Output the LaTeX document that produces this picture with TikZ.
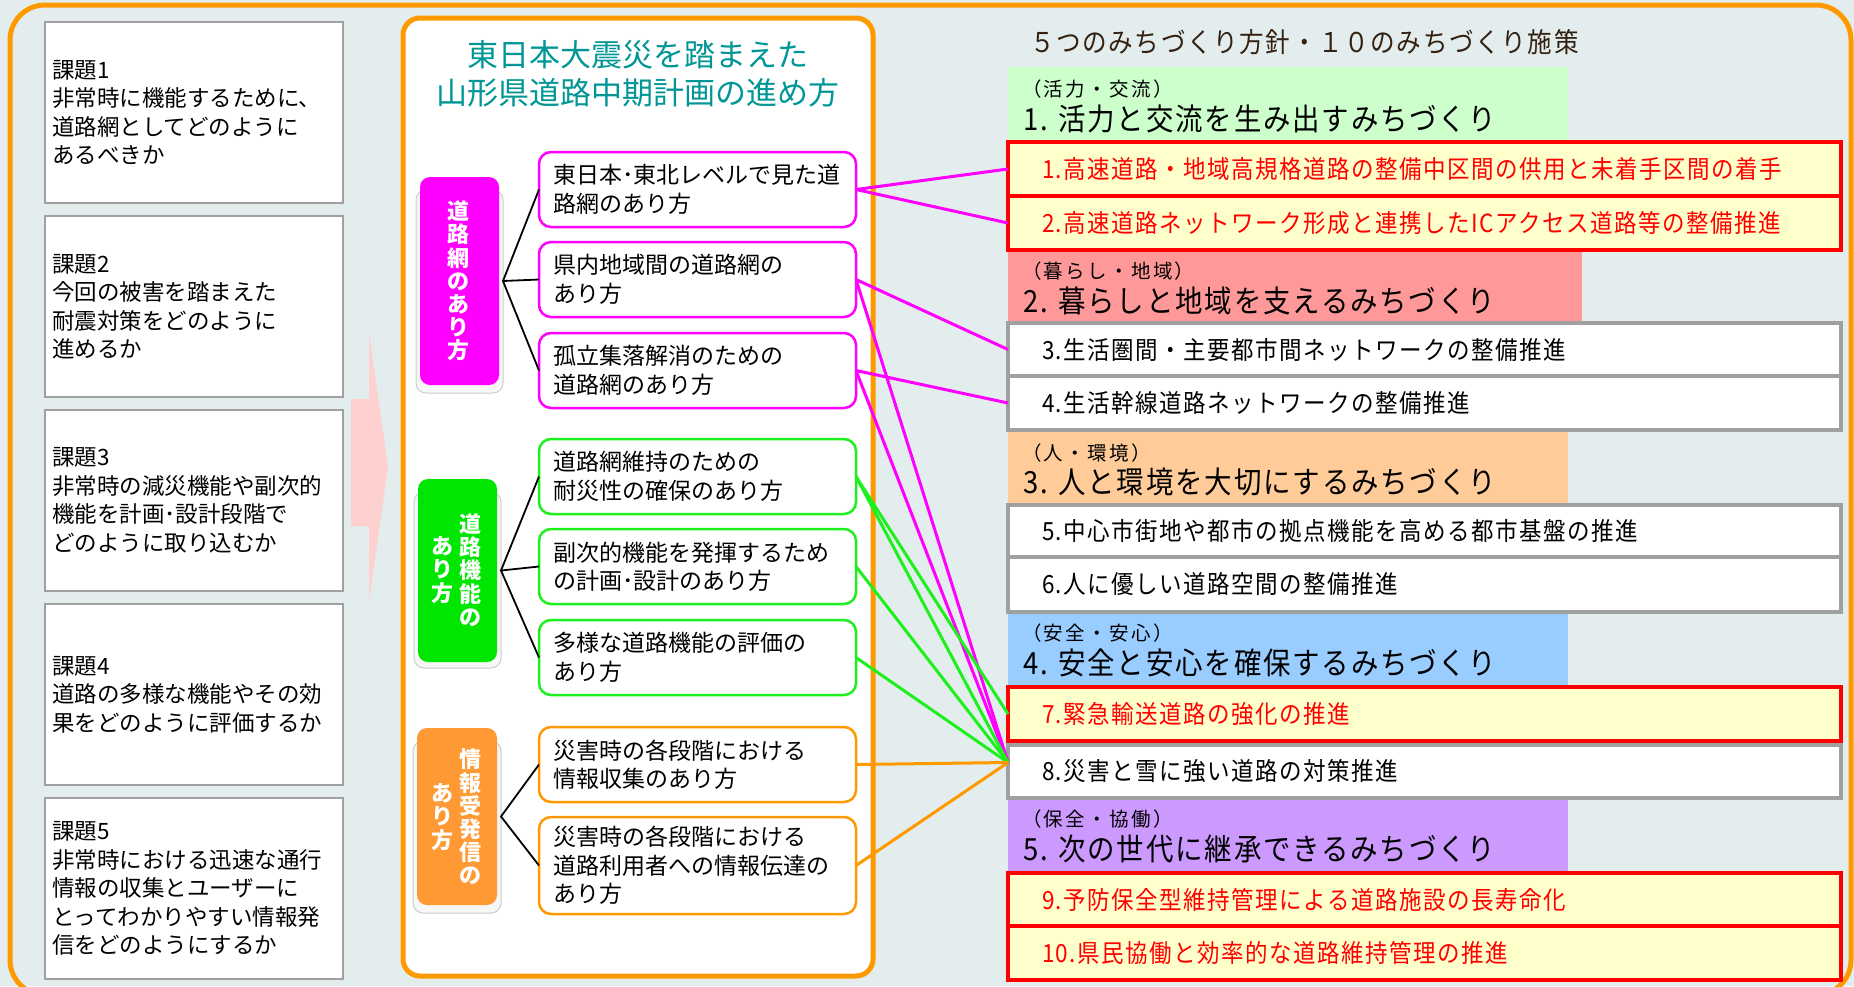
\documentclass[tikz,border=0pt]{standalone}
\usepackage{fontspec}
\setmainfont{Noto Sans CJK JP}
\newfontfamily\rfont[FakeStretch=0.9,LetterSpace=6]{Noto Sans CJK JP}
\newfontfamily\rsmall[LetterSpace=12]{Noto Sans CJK JP}
\usetikzlibrary{calc}
\definecolor{bgc}{RGB}{228,237,237}
\definecolor{orng}{RGB}{255,153,0}
\definecolor{mag}{RGB}{255,0,255}
\definecolor{grn}{RGB}{30,240,30}
\definecolor{catgrn}{RGB}{0,230,0}
\definecolor{catorg}{RGB}{255,153,51}
\definecolor{tealc}{RGB}{0,150,150}
\definecolor{brn}{RGB}{51,34,17}
\definecolor{hgreen}{RGB}{204,255,204}
\definecolor{hpink}{RGB}{255,153,153}
\definecolor{horange}{RGB}{255,204,153}
\definecolor{hblue}{RGB}{153,204,255}
\definecolor{hpurple}{RGB}{204,153,255}
\definecolor{yel}{RGB}{255,255,204}
\definecolor{gbord}{RGB}{160,160,160}
\definecolor{pinkarrow}{RGB}{255,208,208}
\begin{document}
\begin{tikzpicture}[x=1pt,y=-1pt,
  every node/.style={outer sep=0pt},
  issue/.style={draw=gbord, line width=2.5pt, fill=white, anchor=north west, text width=284pt, inner xsep=7pt, inner ysep=0pt, minimum height=181pt, align=left, font=\fontsize{22.5}{28.5}\selectfont},
  sub/.style={line width=2.5pt, rounded corners=12pt, fill=white, anchor=north west, text width=289pt, inner xsep=14pt, inner ysep=0pt, minimum height=75pt, align=left, font=\fontsize{23}{28.5}\selectfont},
  cat/.style={rounded corners=10pt, anchor=north west, inner sep=0pt},
  plate/.style={rounded corners=10pt, fill=gray!6, draw=gray!40, line width=1pt},
  vt/.style={text=white, align=center, inner sep=0pt, font=\fontsize{22}{23.2}\selectfont\bfseries},
  tree/.style={black, line width=1.8pt},
  hdr/.style={anchor=north west, inner sep=0pt, minimum width=560pt},
  hs/.style={anchor=west, inner sep=0pt, font=\rsmall\fontsize{19.5}{22}\selectfont},
  hl/.style={anchor=west, inner sep=0pt, font=\rfont\fontsize{30.5}{33}\selectfont},
  item/.style={anchor=north west, minimum width=833pt, text width=765pt, inner xsep=34pt, inner ysep=0pt, align=left, line width=3.5pt, font=\rfont\fontsize{25}{28}\selectfont},
  ritem/.style={item, draw=red, fill=yel, text=red},
  gitem/.style={item, draw=gbord, fill=white},
  conn/.style={line width=3pt}
]
\useasboundingbox (0,0) rectangle (1854,986);
\clip (0,0) rectangle (1854,986);
\fill[bgc] (0,0) rectangle (1854,986);
\draw[orng,line width=5pt,rounded corners=35pt] (10,5) rectangle (1851,995);

% left issue boxes
\node[issue] (k1) at (45,22) {課題1\\非常時に機能するために、\\道路網としてどのように\\あるべきか};
\node[issue] (k2) at (45,216) {課題2\\今回の被害を踏まえた\\耐震対策をどのように\\進めるか};
\node[issue] (k3) at (45,410) {課題3\\非常時の減災機能や副次的\\機能を計画･設計段階で\\どのように取り込むか};
\node[issue] (k4) at (45,604) {課題4\\道路の多様な機能やその効\\果をどのように評価するか};
\node[issue] (k5) at (45,798) {課題5\\非常時における迅速な通行\\情報の収集とユーザーに\\とってわかりやすい情報発\\信をどのようにするか};

% pink arrow
\fill[pinkarrow] (351,399) -- (369,399) -- (369,332) -- (388,467) -- (369,602) -- (369,526) -- (351,526) -- cycle;

% center panel
\node[draw=orng, line width=5pt, fill=white, rounded corners=17pt, anchor=north west, minimum width=470pt, minimum height=958pt, inner sep=0pt] (panel) at (403,18) {};
\node[font=\fontsize{31}{38}\selectfont, text=tealc, align=center, inner sep=0pt] (ttl) at (638,74) {東日本大震災を踏まえた\\山形県道路中期計画の進め方};

% category boxes
\draw[plate] (416,190) rectangle (503,393);
\draw[plate] (414,492) rectangle (501,668);
\draw[plate] (413,741) rectangle (501,913);
\node[cat, fill=mag, minimum width=79pt, minimum height=208pt] (c1) at (420,177) {};
\node[cat, fill=catgrn, minimum width=79pt, minimum height=183pt] (c2) at (418,479) {};
\node[cat, fill=catorg, minimum width=80pt, minimum height=177pt] (c3) at (417,728) {};
\node[vt] (v1) at (458,281) {道\\路\\網\\の\\あ\\り\\方};
\node[vt] (v2a) at (470,570) {道\\路\\機\\能\\の};
\node[vt] (v2b) at (442,570) {あ\\り\\方};
\node[vt] (v3a) at (470,817) {情\\報\\受\\発\\信\\の};
\node[vt] (v3b) at (442,817) {あ\\り\\方};

% sub boxes
\node[sub, draw=mag] (sA) at (539,152) {東日本･東北レベルで見た道\\路網のあり方};
\node[sub, draw=mag] (sB) at (539,242) {県内地域間の道路網の\\あり方};
\node[sub, draw=mag] (sC) at (539,333) {孤立集落解消のための\\道路網のあり方};
\node[sub, draw=grn] (sD) at (539,439) {道路網維持のための\\耐災性の確保のあり方};
\node[sub, draw=grn] (sE) at (539,529) {副次的機能を発揮するため\\の計画･設計のあり方};
\node[sub, draw=grn] (sF) at (539,620) {多様な道路機能の評価の\\あり方};
\node[sub, draw=orng] (sG) at (539,727) {災害時の各段階における\\情報収集のあり方};
\node[sub, draw=orng, minimum height=97pt] (sH) at (539,817) {災害時の各段階における\\道路利用者への情報伝達の\\あり方};

% tree connectors
\coordinate (h1) at ($(c1.east)+(4,0)$);
\coordinate (h2) at ($(c2.east)+(4,0)$);
\coordinate (h3) at ($(c3.east)+(4,0)$);
\draw[tree] (sA.west) -- (h1) -- (sC.west);
\draw[tree] (h1) -- (sB.west);
\draw[tree] (sD.west) -- (h2) -- (sF.west);
\draw[tree] (h2) -- (sE.west);
\draw[tree] (sG.west) -- (h3) -- (sH.west);

% right column
\node[anchor=west, inner sep=0pt, font=\rfont\fontsize{27.3}{30}\selectfont, text=brn] (rt) at (1030,42) {５つのみちづくり方針・１０のみちづくり施策};

\node[hdr, fill=hgreen, minimum height=75pt] (hd1) at (1008,67) {};
\node[hdr, fill=hpink, minimum width=574pt, minimum height=73pt] (hd2) at (1008,250) {};
\node[hdr, fill=horange, minimum height=73pt] (hd3) at (1008,432) {};
\node[hdr, fill=hblue, minimum height=75pt] (hd4) at (1008,612) {};
\node[hdr, fill=hpurple, minimum height=75pt] (hd5) at (1008,798) {};

\node[hs] (hs1) at (1022,89) {（活力・交流）};
\node[hl] (hl1) at (1023,119) {1. 活力と交流を生み出すみちづくり};
\node[hs] (hs2) at (1022,271) {（暮らし・地域）};
\node[hl] (hl2) at (1023,301) {2. 暮らしと地域を支えるみちづくり};
\node[hs] (hs3) at (1022,453) {（人・環境）};
\node[hl] (hl3) at (1023,482) {3. 人と環境を大切にするみちづくり};
\node[hs] (hs4) at (1022,633) {（安全・安心）};
\node[hl] (hl4) at (1023,663) {4. 安全と安心を確保するみちづくり};
\node[hs] (hs5) at (1022,819) {（保全・協働）};
\node[hl] (hl5) at (1023,849) {5. 次の世代に継承できるみちづくり};

\node[ritem, minimum height=54pt] (r1) at (1008,142) {1.高速道路・地域高規格道路の整備中区間の供用と未着手区間の着手};
\node[ritem, minimum height=54pt] (r2) at (1008,196) {2.高速道路ネットワーク形成と連携したICアクセス道路等の整備推進};
\node[gitem, minimum height=53pt] (r3) at (1008,323) {3.生活圏間・主要都市間ネットワークの整備推進};
\node[gitem, minimum height=54pt] (r4) at (1008,376) {4.生活幹線道路ネットワークの整備推進};
\node[gitem, minimum height=52pt] (r5) at (1008,505) {5.中心市街地や都市の拠点機能を高める都市基盤の推進};
\node[gitem, minimum height=55pt] (r6) at (1008,557) {6.人に優しい道路空間の整備推進};
\node[ritem, minimum height=54pt] (r7) at (1008,687) {7.緊急輸送道路の強化の推進};
\node[gitem, minimum height=53pt] (r8) at (1008,745) {8.災害と雪に強い道路の対策推進};
\node[ritem, minimum height=53pt] (r9) at (1008,873) {9.予防保全型維持管理による道路施設の長寿命化};
\node[ritem, minimum height=54pt] (r10) at (1008,926) {10.県民協働と効率的な道路維持管理の推進};

% colored connectors
\coordinate (cv) at ($(r8.west)+(0,-9)$);
\draw[conn, mag] (sA.east) -- (r1.west);
\draw[conn, mag] (sA.east) -- (r2.west);
\draw[conn, mag] (sB.east) -- (r3.west);
\draw[conn, mag] (sB.east) -- (cv);
\draw[conn, mag] (sC.east) -- (r4.west);
\draw[conn, mag] (sC.east) -- (cv);
\draw[conn, grn] (sD.east) -- (r7.west);
\draw[conn, grn] (sD.east) -- (cv);
\draw[conn, grn] (sE.east) -- (cv);
\draw[conn, grn] (sF.east) -- (cv);
\draw[conn, orng] (sG.east) -- (cv);
\draw[conn, orng] (sH.east) -- (cv);
\end{tikzpicture}
\end{document}
